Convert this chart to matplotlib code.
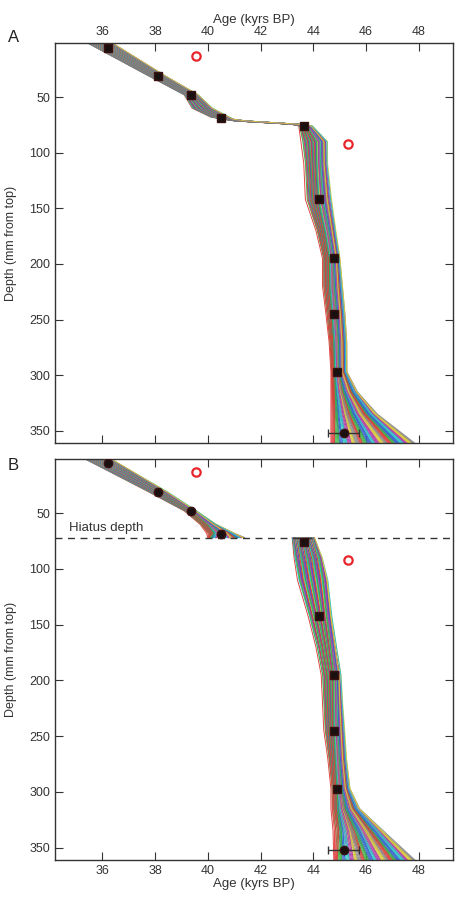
import numpy as np
import matplotlib
matplotlib.use('Agg')
import matplotlib.pyplot as plt

plt.rcParams['font.family'] = ['Liberation Sans', 'DejaVu Sans']

# dated samples (age kyr BP, depth mm)
ages = [36.2, 38.1, 39.35, 40.5, 43.65, 44.2, 44.8, 44.8, 44.9, 45.15]
depths = [5.5, 31.5, 48.5, 68.5, 76, 142, 195, 245, 297, 352]
age_err = [0.1, 0.1, 0.1, 0.1, 0.1, 0.1, 0.1, 0.1, 0.1, 0.6]
out_ages = [39.55, 45.3]
out_depths = [13, 92.5]
hiatus = 72

# ensemble envelope, panel A (continuous model)
envA_depth = [1, 31, 48, 60, 68, 70, 71.5, 73, 74.5, 76, 90, 110, 142, 170,
              195, 220, 245, 270, 297, 315, 335, 362]
envA_left = [35.4, 37.75, 39.1, 39.4, 40.1, 40.6, 41.0, 42.1, 43.15, 43.45,
             43.53, 43.64, 43.7, 44.1, 44.35, 44.35, 44.48, 44.6, 44.67,
             44.67, 44.67, 44.67]
envA_right = [36.35, 38.4, 39.65, 40.2, 40.85, 41.0, 41.5, 42.5, 43.5, 44.0,
              44.6, 44.6, 44.75, 44.9, 45.05, 45.15, 45.24, 45.3, 45.3, 45.7,
              46.45, 47.9]

# ensemble envelope, panel B (hiatus model)
envB1_depth = [1, 31, 48, 60, 68, 72]
envB1_left = [35.3, 37.75, 39.1, 39.7, 39.95, 40.0]
envB1_right = [36.3, 38.5, 39.6, 40.35, 41.05, 41.4]
envB2_depth = [72, 90, 110, 142, 170, 195, 220, 245, 270, 297, 315, 335, 362]
envB2_left = [43.2, 43.27, 43.4, 43.8, 44.1, 44.3, 44.35, 44.4, 44.55, 44.67,
              44.67, 44.75, 44.78]
envB2_right = [44.05, 44.37, 44.6, 44.75, 44.93, 45.1, 45.16, 45.24, 45.3,
               45.43, 45.8, 46.7, 47.9]

cols = ['#E03C3C', '#3CB043', '#3A5FCD', '#2EC4C4', '#B03AB0', '#D8C83A', '#8C8C8C']
N = 97


def draw_band(ax, d, left, right):
    d = np.array(d); left = np.array(left); right = np.array(right)
    f0 = np.linspace(0, 1, N)
    f1 = f0[(np.arange(N) * 37) % N]
    w = np.linspace(0, 1, len(d))
    for k in range(N):
        f = f0[k] * (1 - w) + f1[k] * w
        x = left + f * (right - left)
        ax.plot(x, d, color=cols[k % len(cols)], lw=0.7, alpha=0.95, zorder=2)


def draw_points(ax, circ_idx):
    ax.errorbar(ages, depths, xerr=age_err, fmt='none', ecolor='#333333',
                elinewidth=1, capsize=3, zorder=3)
    for i in range(len(ages)):
        m = 'o' if i in circ_idx else 's'
        ax.plot(ages[i], depths[i], marker=m, ms=6, color='#1a1010',
                mec='#3a1010', zorder=4)
    ax.plot(out_ages, out_depths, 'o', mfc='none', mec='#E8252A', mew=1.6,
            ms=6, zorder=4)


def style(ax):
    ax.set_xlim(34.2, 49.3)
    ax.set_ylim(361, 1.5)
    ax.set_xticks([36, 38, 40, 42, 44, 46, 48])
    ax.set_yticks([50, 100, 150, 200, 250, 300, 350])
    ax.tick_params(direction='in', length=6, top=True, right=True,
                   labelsize=9, colors='#333333', labelcolor='#333333')
    for s in ax.spines.values():
        s.set_color('#333333')
        s.set_linewidth(1)
    ax.set_ylabel('Depth (mm from top)', fontsize=9, color='#333333', labelpad=9)


fig = plt.figure(figsize=(4.59, 8.97), dpi=100)
axA = fig.add_axes([0.1198, 0.5061, 0.867, 0.4459])
axB = fig.add_axes([0.1198, 0.0413, 0.867, 0.447])

draw_band(axA, envA_depth, envA_left, envA_right)
draw_points(axA, [9])
style(axA)
axA.xaxis.set_label_position('top')
axA.tick_params(labeltop=True, labelbottom=False)
axA.set_xlabel('Age (kyrs BP)', fontsize=9.5, color='#333333', labelpad=2)

draw_band(axB, envB1_depth, envB1_left, envB1_right)
draw_band(axB, envB2_depth, envB2_left, envB2_right)
axB.axhline(hiatus, color='#333333', ls=(0, (5, 4)), lw=1, zorder=3)
axB.text(34.75, hiatus - 3, 'Hiatus depth', fontsize=9.5, color='#333333', va='bottom')
draw_points(axB, [0, 1, 2, 3, 9])
style(axB)
axB.set_xlabel('Age (kyrs BP)', fontsize=9.5, color='#333333', labelpad=1)

fig.text(8 / 459, 1 - 37 / 897, 'A', fontsize=12, color='#222222', va='center')
fig.text(8 / 459, 1 - 465 / 897, 'B', fontsize=12, color='#222222', va='center')

fig.savefig('out.png', dpi=100)
